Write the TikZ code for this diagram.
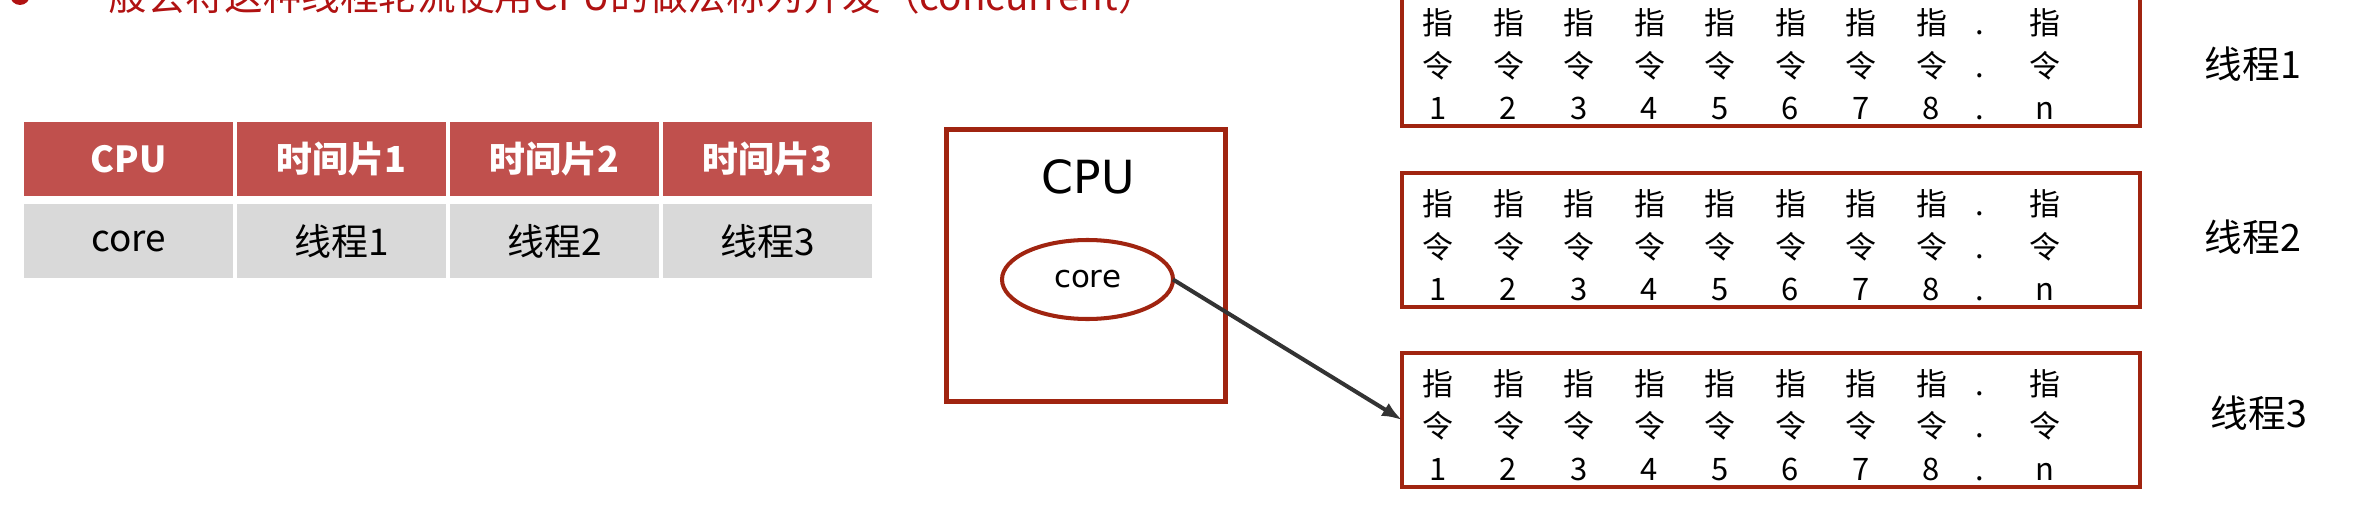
\documentclass[tikz,border=0pt]{standalone}
\usepackage{fontspec}
\setmainfont{Noto Sans CJK SC}
\newfontfamily\dejavu{DejaVu Sans}
\usepackage{xcolor}
\usetikzlibrary{calc, shapes.geometric, positioning, arrows.meta}

\definecolor{hdred}{RGB}{192,80,77}
\definecolor{rowgray}{RGB}{217,217,217}
\definecolor{boxred}{RGB}{160,36,16}
\definecolor{introred}{RGB}{176,18,18}
\definecolor{arrowgray}{RGB}{51,51,51}

\begin{document}
\begin{tikzpicture}[x=0.1mm, y=-0.1mm, >={Latex[length=2mm, width=1.5mm]},
    hdcell/.style={fill=hdred, text=white, font=\bfseries\fontsize{10.2}{12}\selectfont,
        minimum width=20.9mm, minimum height=7.4mm, inner sep=0pt, outer sep=0pt},
    rowcell/.style={fill=rowgray, font=\fontsize{10.5}{12}\selectfont,
        minimum width=20.9mm, minimum height=7.4mm, inner sep=0pt, outer sep=0pt},
    thbox/.style={draw=boxred, line width=1.15pt, minimum width=73.8mm,
        minimum height=13.4mm, inner sep=0pt, outer sep=0pt},
    insn/.style={font=\fontsize{8.8}{10}\selectfont, inner sep=0pt, anchor=base},
    thlabel/.style={font=\fontsize{10.7}{12}\selectfont, inner sep=0pt}]
    \useasboundingbox (0,0) rectangle (2373,519);

    % 标题（上边被裁掉）
    \fill[introred] (20,-5) circle (1mm);
    \node[anchor=base west, inner sep=0pt, text=introred, font=\fontsize{11}{13}\selectfont]
        (intro) at (69,10) {一般会将这种线程轮流使用CPU的做法称为并发（concurrent）};

    % 时间片表格
    \node[hdcell] (hcpu) at (128.5,159) {CPU};
    \node[hdcell, right=0.4mm of hcpu] (hslice1) {时间片1};
    \node[hdcell, right=0.4mm of hslice1] (hslice2) {时间片2};
    \node[hdcell, right=0.4mm of hslice2] (hslice3) {时间片3};
    \node[rowcell, below=0.8mm of hcpu] (rcore) {core};
    \node[rowcell, below=0.8mm of hslice1] (rth1) {线程1};
    \node[rowcell, below=0.8mm of hslice2] (rth2) {线程2};
    \node[rowcell, below=0.8mm of hslice3] (rth3) {线程3};

    % CPU 和 core
    \node[draw=boxred, line width=1.3pt, minimum width=27.9mm, minimum height=27.2mm,
        inner sep=0pt, outer sep=0pt] (cpu) at (1086,265.5) {};
    \node[font=\dejavu\fontsize{13}{15}\selectfont, inner sep=0pt] (cputxt) at (1088,177) {CPU};
    \node[ellipse, draw=boxred, line width=1.15pt, minimum width=17.1mm, minimum height=7.9mm,
        inner sep=0pt, outer sep=0pt, font=\dejavu\fontsize{8.8}{10}\selectfont] (core) at (1087.5,279.5) {core};

    % 三个线程的指令
    \node[thbox] (t1) at (1771,59) {};
    \node[thbox, below=4.7mm of t1] (t2) {};
    \node[thbox, below=4.6mm of t2] (t3) {};
    \foreach \b in {t1,t2,t3} {
        \foreach \c in {1,...,8} {
            \node[insn] (\b z\c) at ($(\b.north west)+({36+70.5*(\c-1)},42)$) {指};
            \node[insn] (\b l\c) at ($(\b.north west)+({36+70.5*(\c-1)},85)$) {令};
            \node[insn] (\b n\c) at ($(\b.north west)+({36+70.5*(\c-1)},127)$) {\c};
        }
        \foreach \r/\y in {1/42, 2/85, 3/127}
            \node[insn] (\b d\r) at ($(\b.north west)+(578,\y)$) {.};
        \node[insn] (\b zn) at ($(\b.north west)+(643,42)$) {指};
        \node[insn] (\b ln) at ($(\b.north west)+(643,85)$) {令};
        \node[insn] (\b nn) at ($(\b.north west)+(643,127)$) {n};
    }
    \node[thlabel] (lbl1) at (2253,64) {线程1};
    \node[thlabel] (lbl2) at (2253,237) {线程2};
    \node[thlabel] (lbl3) at (2259,413) {线程3};

    \draw[->, draw=arrowgray, line width=1.15pt] (core.east) -- (t3.west);
\end{tikzpicture}
\end{document}
